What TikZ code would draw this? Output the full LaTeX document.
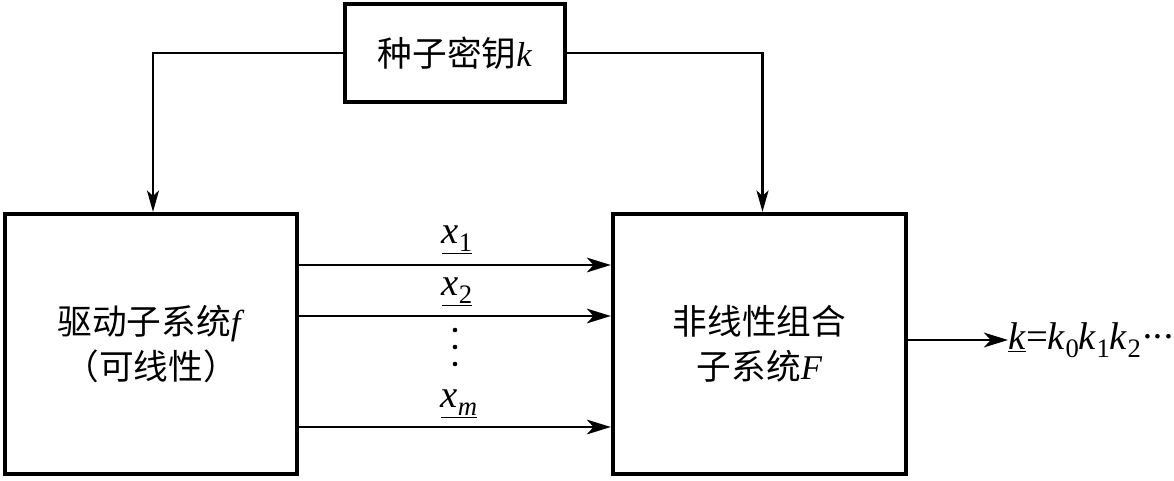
\documentclass[tikz,border=0pt]{standalone}
\usepackage{fontspec}
\setmainfont{Liberation Serif}
\newfontfamily\cjk{Noto Sans CJK SC}
\usetikzlibrary{arrows.meta,positioning,calc}

\newcommand{\lowidx}[1]{\raisebox{-0.45ex}{\fontsize{20}{20}\selectfont #1}}

\begin{document}
\begin{tikzpicture}[x=0.75pt,y=0.75pt,yscale=-1,xscale=1,
  blk/.style={draw, line width=3.2pt, inner sep=0pt, align=center,
    font=\fontsize{26}{34}\selectfont},
  lbl/.style={inner sep=0pt, font=\fontsize{29}{32}\selectfont},
  flow/.style={line width=2.2pt, -{Stealth[length=18pt, width=11pt, inset=5pt]}},
  feed/.style={line width=1.6pt, -{Stealth[length=16pt, width=9pt, inset=4pt]}}]
\useasboundingbox (0,0) rectangle (1174,481);

%Shape: Rectangle [id:key]
\node [blk, minimum width=165pt, minimum height=73.5pt] (key) at (455,53)
  {{\cjk 种子密钥}\textit{k}};
%Shape: Rectangle [id:drive]
\node [blk, minimum width=219pt, minimum height=195pt] (drive) at (151,344)
  {{\cjk 驱动子系统}\textit{f}\\{\cjk （可线性）}};
%Shape: Rectangle [id:comb]
\node [blk, minimum width=219.75pt, minimum height=195pt] (comb) at (759.5,344)
  {{\cjk 非线性组合}\\{\cjk 子系统}\textit{F}};

% Text Node
\node [lbl] (lx1) at (457,240) {\underline{\textit{x}\lowidx{1}}};
% Text Node
\node [lbl] (lx2) at (457,292) {\underline{\textit{x}\lowidx{2}}};
% Text Node
\node [lbl] (lxm) at (459,404) {\underline{\textit{x}\lowidx{\textit{m}}}};
% Text Node
\node [lbl, anchor=west] (out) at (1008,340)
  {\underline{\textit{k}}=\textit{k}\lowidx{0}\textit{k}\lowidx{1}\textit{k}\lowidx{2}\textperiodcentered\kern-1.5pt\textperiodcentered\kern-1.5pt\textperiodcentered};

%Straight Lines [id:feed]
\draw [feed] (key.west) -| ($(drive.north)+(2,0)$) ;
\draw [feed] (key.east) -| ($(comb.north)+(3,0)$) ;

%Straight Lines [id:flow]
\draw [flow] (drive.east |- 0,265) -- (comb.west |- 0,265) ;
\draw [flow] (drive.east |- 0,316) -- (comb.west |- 0,316) ;
\draw [flow] (drive.east |- 0,427) -- (comb.west |- 0,427) ;
\draw [flow] (comb.east |- out.west) -- (out.west) ;

%Shape: Dots
\fill (455,330) circle (2.3) ;
\fill (455,347) circle (2.3) ;
\fill (455,364) circle (2.3) ;

\end{tikzpicture}
\end{document}
